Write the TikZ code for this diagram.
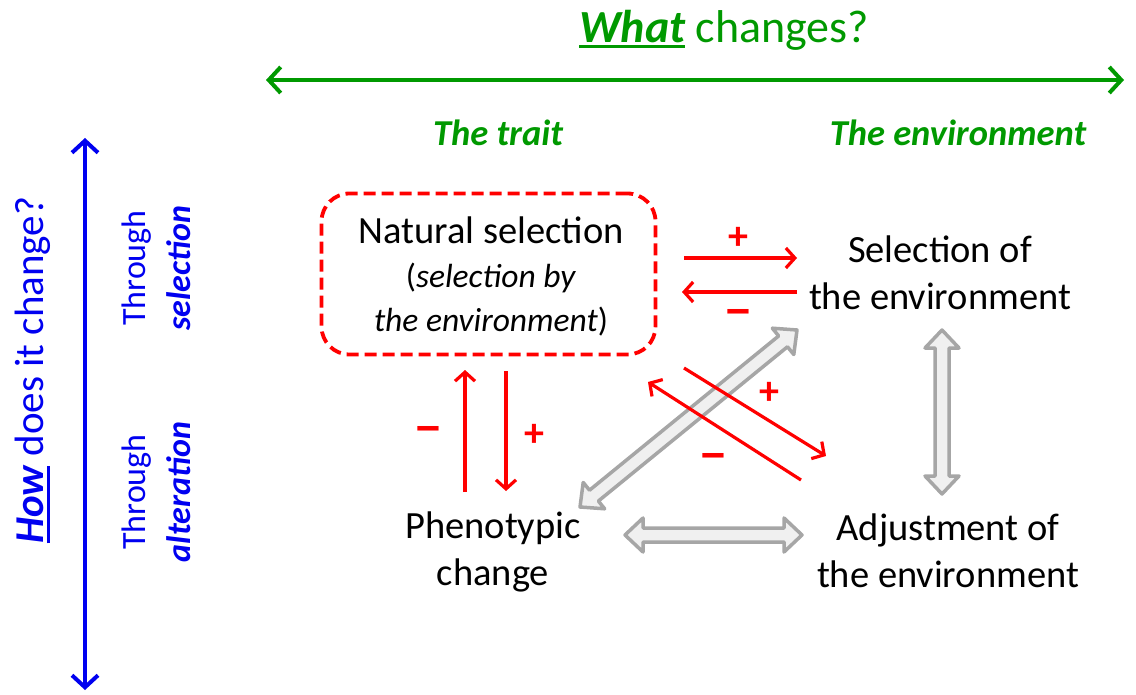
\documentclass[tikz,border=0pt]{standalone}
\usepackage{fontspec}
\setmainfont{Carlito}
\usetikzlibrary{arrows.meta,calc}
\definecolor{axisgreen}{RGB}{0,153,0}
\definecolor{axisblue}{RGB}{0,0,240}
\definecolor{fbred}{RGB}{255,0,0}
\definecolor{blockfill}{RGB}{240,240,240}
\definecolor{blockedge}{RGB}{166,166,166}
% thick underline under a word
\newcommand\thickul[2]{\setbox0\hbox{#2}\rlap{\color{#1}\rule[-6pt]{\wd0}{3pt}}\box0\relax}
% outlined double block arrow between two named points
\newcommand\blockarrow[2]{%
  \path ($(#1)!18pt!(#2)$) coordinate (#1#2a) ($(#2)!18pt!(#1)$) coordinate (#1#2b);
  \draw[blockarrow]
    (#1) -- ($(#1#2a)!17pt!90:(#1)$) -- ($(#1#2a)!7pt!90:(#1)$)
    -- ($(#1#2b)!7pt!-90:(#2)$) -- ($(#1#2b)!17pt!-90:(#2)$) -- (#2)
    -- ($(#1#2b)!17pt!90:(#2)$) -- ($(#1#2b)!7pt!90:(#2)$)
    -- ($(#1#2a)!7pt!-90:(#1)$) -- ($(#1#2a)!17pt!-90:(#1)$) -- cycle;}
\begin{document}
\begin{tikzpicture}[x=1pt,y=-1pt,
  lbl/.style={align=center,inner sep=0pt,font=\fontsize{38.5}{47}\selectfont},
  headlbl/.style={inner sep=0pt,text=axisgreen,font=\fontsize{36.5}{42}\selectfont\bfseries\itshape},
  sidelbl/.style={align=center,inner sep=0pt,text=axisblue,rotate=90,font=\fontsize{34}{45}\selectfont},
  axis/.style={line width=4pt,{Straight Barb[length=12pt,width=26pt]}-{Straight Barb[length=12pt,width=26pt]}},
  fb/.style={line width=3.2pt,fbred,-{Straight Barb[length=9pt,width=20pt]}},
  sign/.style={inner sep=0pt,text=fbred,font=\fontsize{40}{40}\selectfont\bfseries},
  minus/.style={sign,transform shape,xscale=1.5,yscale=1.3},
  nsbox/.style={draw=fbred,line width=3.8pt,dash pattern=on 12pt off 6pt,rounded corners=28pt,
    minimum width=334pt,minimum height=161pt,align=center,inner sep=0pt},
  blockarrow/.style={draw=blockedge,fill=blockfill,line width=3.5pt,line join=round}]
\useasboundingbox (0,0) rectangle (1136,695);

% axes and their headings
\node[inner sep=0pt,text=axisgreen,font=\fontsize{46}{50}\selectfont] (what) at (724,30)
  {\thickul{axisgreen}{\bfseries\itshape What} changes?};
\coordinate (gl) at (266,80);
\coordinate (gr) at (1124,80);
\draw[axis,axisgreen] (gl) -- (gr);
\node[headlbl] (trait) at (498,133) {The trait};
\node[headlbl] (envh) at (958,133) {The environment};

\coordinate (bt) at (85,138);
\coordinate (bb) at (85,690);
\draw[axis,axisblue] (bt) -- (bb);
\node[inner sep=0pt,text=axisblue,rotate=90,font=\fontsize{41}{45}\selectfont] (how) at (33,370)
  {\thickul{axisblue}{\bfseries\itshape How} does it change?};
\node[sidelbl] (thrsel) at (156,268) {Through\\\textbf{\textit{selection}}};
\node[sidelbl] (thralt) at (156,492) {Through\\\textbf{\textit{alteration}}};

% the four processes
\node[nsbox] (ns) at (488.5,274) {};
\node[lbl] (nstext) at (491,276) {Natural selection\\[-3pt]
  {\fontsize{33.5}{45}\selectfont(\textit{selection by}}\\[-3pt]
  {\fontsize{33.5}{45}\selectfont\textit{the environment})}};
\node[lbl] (sel) at (940,273) {Selection of\\the environment};
\node[lbl] (phen) at (493,552) {Phenotypic\\change};
\node[lbl] (adj) at (948,551) {Adjustment of\\the environment};

% grey two-way links
\coordinate (P1) at (625,535);
\coordinate (P2) at (802,535);
\blockarrow{P1}{P2}
\coordinate (V1) at (942,330);
\coordinate (V2) at (942,494);
\blockarrow{V1}{V2}
\coordinate (D1) at (580,507);
\coordinate (D2) at (797,330);
\blockarrow{D1}{D2}

% red feedback arrows
\coordinate (a1s) at (684,258); \coordinate (a1e) at (797,258);
\draw[fb] (a1s) -- (a1e);
\node[sign] (p1) at (738,238) {+};
\coordinate (a2s) at (797,292); \coordinate (a2e) at (682,292);
\draw[fb] (a2s) -- (a2e);
\node[minus] (m1) at (738,318) {–};

\coordinate (a3s) at (465,492); \coordinate (a3e) at (465,370);
\draw[fb] (a3s) -- (a3e);
\node[minus] (m2) at (428,435) {–};
\coordinate (a4s) at (506,371); \coordinate (a4e) at (506,491);
\draw[fb] (a4s) -- (a4e);
\node[sign] (p2) at (534,435) {+};

\coordinate (a5s) at (684,368); \coordinate (a5e) at (826,456);
\draw[fb] (a5s) -- (a5e);
\node[sign] (p3) at (769,393) {+};
\coordinate (a6s) at (801,480); \coordinate (a6e) at (648,382);
\draw[fb] (a6s) -- (a6e);
\node[minus] (m3) at (713,462) {–};
\end{tikzpicture}
\end{document}
